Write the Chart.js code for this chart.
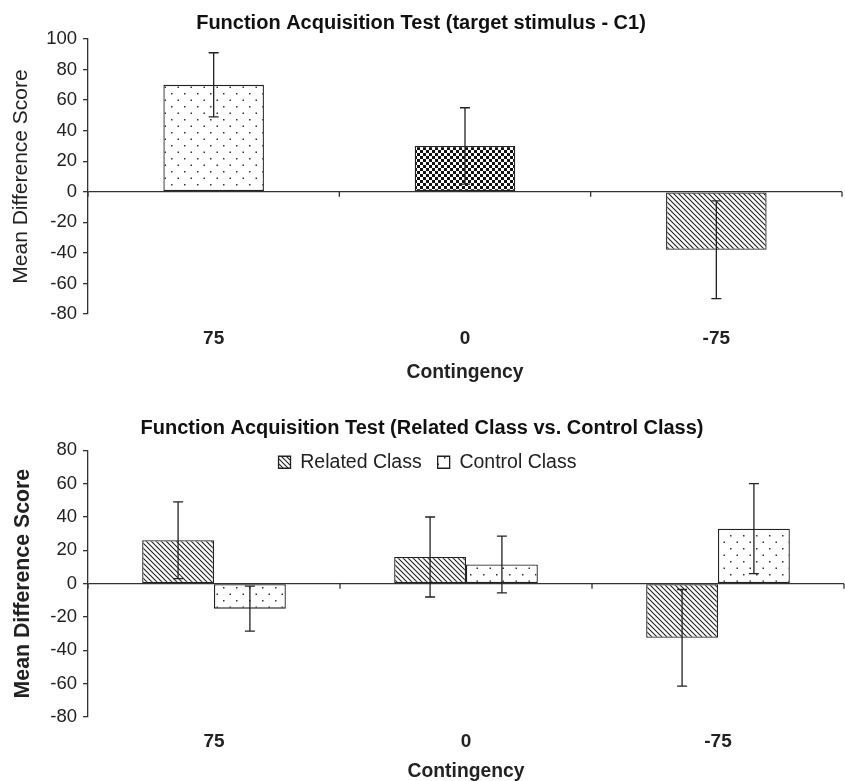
<!DOCTYPE html>
<html>
<head>
<meta charset="utf-8">
<script src="https://cdn.jsdelivr.net/npm/chart.js@4.4.1/dist/chart.umd.min.js"></script>
<style>
  html, body { margin: 0; padding: 0; background: #fff; overflow: hidden; }
  .box { position: absolute; left: 0; width: 845px; }
  #top-box { top: 0; height: 390px; }
  #bottom-box { top: 390px; height: 395px; }
</style>
</head>
<body>
<div class="box" id="top-box"><canvas id="c1-chart"></canvas></div>
<div class="box" id="bottom-box"><canvas id="class-chart"></canvas></div>
<script>
// data
var contingencies = ['75', '0', '-75'];
var c1Means = [70, 30, -38];
var c1Errors = [21, 25, 32];
var relatedMeans = [26, 16, -32.5];
var relatedErrors = [23, 24, 29];
var controlMeans = [-15, 11.5, 33];
var controlErrors = [13.5, 17, 27];

Chart.defaults.font.family = "'Liberation Sans', Arial, sans-serif";
Chart.defaults.color = '#222';

function makePattern(kind) {
    var c = document.createElement('canvas');
    var g = c.getContext('2d');
    if (kind === 'dots') {
        c.width = 13; c.height = 13;
        g.fillStyle = '#fff'; g.fillRect(0, 0, 13, 13);
        g.fillStyle = '#333';
        g.fillRect(2, 2, 1.5, 1.5);
        g.fillRect(8.5, 8.5, 1.5, 1.5);
    } else if (kind === 'checker') {
        c.width = 6; c.height = 6;
        g.fillStyle = '#fff'; g.fillRect(0, 0, 6, 6);
        g.fillStyle = '#111';
        g.fillRect(0, 0, 3, 3);
        g.fillRect(3, 3, 3, 3);
    } else {
        c.width = 5; c.height = 5;
        g.fillStyle = '#fff'; g.fillRect(0, 0, 5, 5);
        g.strokeStyle = '#222'; g.lineWidth = 1.1;
        g.beginPath();
        g.moveTo(0, 0); g.lineTo(5, 5);
        g.moveTo(-1, 4); g.lineTo(1, 6);
        g.moveTo(4, -1); g.lineTo(6, 1);
        g.stroke();
    }
    return g.createPattern(c, 'repeat');
}

var dots = makePattern('dots');
var checker = makePattern('checker');
var diagonal = makePattern('diagonal');

// error bars from each dataset's "errors" list
var errorBars = {
    id: 'errorBars',
    afterDatasetsDraw: function(chart) {
        var ctx = chart.ctx;
        var y = chart.scales.y;
        chart.data.datasets.forEach(function(ds, i) {
            var meta = chart.getDatasetMeta(i);
            meta.data.forEach(function(bar, j) {
                var v = ds.data[j], e = ds.errors[j];
                var top = y.getPixelForValue(v + e);
                var bot = y.getPixelForValue(v - e);
                ctx.save();
                ctx.strokeStyle = '#222';
                ctx.lineWidth = 1.3;
                ctx.beginPath();
                ctx.moveTo(bar.x, top); ctx.lineTo(bar.x, bot);
                ctx.moveTo(bar.x - 5, top); ctx.lineTo(bar.x + 5, top);
                ctx.moveTo(bar.x - 5, bot); ctx.lineTo(bar.x + 5, bot);
                ctx.stroke();
                ctx.restore();
            });
        });
    }
};

// small tick marks on the zero line between categories
var zeroTicks = {
    id: 'zeroTicks',
    afterDatasetsDraw: function(chart) {
        var ctx = chart.ctx;
        var x = chart.scales.x, y = chart.scales.y;
        var y0 = y.getPixelForValue(0);
        var n = chart.data.labels.length;
        var step = (x.right - x.left) / n;
        ctx.save();
        ctx.strokeStyle = '#333';
        ctx.lineWidth = 1.3;
        ctx.beginPath();
        for (var i = 0; i <= n; i++) {
            var px = x.left + i * step;
            ctx.moveTo(px, y0); ctx.lineTo(px, y0 + 5);
        }
        ctx.stroke();
        ctx.restore();
    }
};

// the legend sits inside the plot in the figure, move it there
var legendNudge = {
    id: 'legendNudge',
    afterLayout: function(chart) {
        var lg = chart.legend;
        if (!lg || !lg.options.display) return;
        var dx = 427.5 - (lg.left + lg.right) / 2;
        var dy = (chart.chartArea.top + 11.7 - 16 - 9.5) - lg.top;
        lg.left += dx; lg.right += dx;
        lg.top += dy; lg.bottom += dy;
    }
};

function yAxis(min, max, boldTitle, titleSize, titlePad) {
    return {
        min: min,
        max: max,
        afterFit: function(scale) { scale.width = 88; },
        ticks: { stepSize: 20, padding: 6, color: '#222', font: { size: 18.5 } },
        grid: {
            color: function(c) { return c.tick && c.tick.value === 0 ? '#333' : 'rgba(0,0,0,0)'; },
            tickColor: '#333',
            tickLength: 5,
            lineWidth: 1.3
        },
        border: { display: true, color: '#333', width: 1.3 },
        title: {
            display: true,
            text: 'Mean Difference Score',
            color: '#222',
            font: { size: titleSize, weight: boldTitle ? 'bold' : 'normal' },
            padding: { top: titlePad, bottom: 0 }
        }
    };
}

function xAxis(height, tickPad, titlePad) {
    return {
        afterFit: function(scale) { scale.height = height; },
        grid: { display: false, drawTicks: false },
        border: { display: false },
        ticks: { padding: tickPad, color: '#222', font: { size: 19, weight: 'bold' } },
        title: {
            display: true,
            text: 'Contingency',
            color: '#222',
            font: { size: 19.3, weight: 'bold' },
            padding: titlePad
        }
    };
}

// Function acquisition, target stimulus C1
new Chart(document.getElementById('c1-chart').getContext('2d'), {
    type: 'bar',
    data: {
        labels: contingencies,
        datasets: [{
            label: 'C1',
            data: c1Means,
            errors: c1Errors,
            backgroundColor: [dots, checker, diagonal],
            borderColor: '#222',
            borderWidth: 1.3,
            borderSkipped: false,
            categoryPercentage: 0.4,
            barPercentage: 1.0
        }]
    },
    options: {
        responsive: true,
        maintainAspectRatio: false,
        animation: false,
        layout: { padding: { left: 0, right: 3, top: 0, bottom: 0 } },
        plugins: {
            legend: { display: false },
            tooltip: { enabled: false },
            title: {
                display: true,
                text: 'Function Acquisition Test (target stimulus - C1)',
                color: '#111',
                font: { size: 20, weight: 'bold' },
                padding: { top: 11, bottom: 4 }
            }
        },
        scales: {
            x: xAxis(76, 13, { top: 0, bottom: 5.3 }),
            y: yAxis(-80, 100, false, 21, 8.5)
        }
    },
    plugins: [errorBars, zeroTicks]
});

// Related class vs. control class
new Chart(document.getElementById('class-chart').getContext('2d'), {
    type: 'bar',
    data: {
        labels: contingencies,
        datasets: [{
            label: 'Related Class',
            data: relatedMeans,
            errors: relatedErrors,
            backgroundColor: diagonal,
            borderColor: '#222',
            borderWidth: 1.3,
            borderSkipped: false,
            categoryPercentage: 0.57,
            barPercentage: 1.0
        }, {
            label: 'Control Class',
            data: controlMeans,
            errors: controlErrors,
            backgroundColor: dots,
            borderColor: '#222',
            borderWidth: 1.3,
            borderSkipped: false,
            categoryPercentage: 0.57,
            barPercentage: 1.0
        }]
    },
    options: {
        responsive: true,
        maintainAspectRatio: false,
        animation: false,
        layout: { padding: { left: 0, right: 1, top: 0, bottom: 0 } },
        plugins: {
            legend: {
                position: 'top',
                labels: { boxWidth: 12, boxHeight: 12, padding: 16, color: '#222', font: { size: 19.5 } }
            },
            tooltip: { enabled: false },
            title: {
                display: true,
                text: 'Function Acquisition Test (Related Class vs. Control Class)',
                color: '#111',
                font: { size: 20, weight: 'bold' },
                padding: { top: 26.3, bottom: -35.5 }
            }
        },
        scales: {
            x: xAxis(68, 13.3, { top: 0, bottom: 2 }),
            y: yAxis(-80, 80, true, 21.3, 10)
        }
    },
    plugins: [errorBars, zeroTicks, legendNudge]
});
</script>
</body>
</html>
